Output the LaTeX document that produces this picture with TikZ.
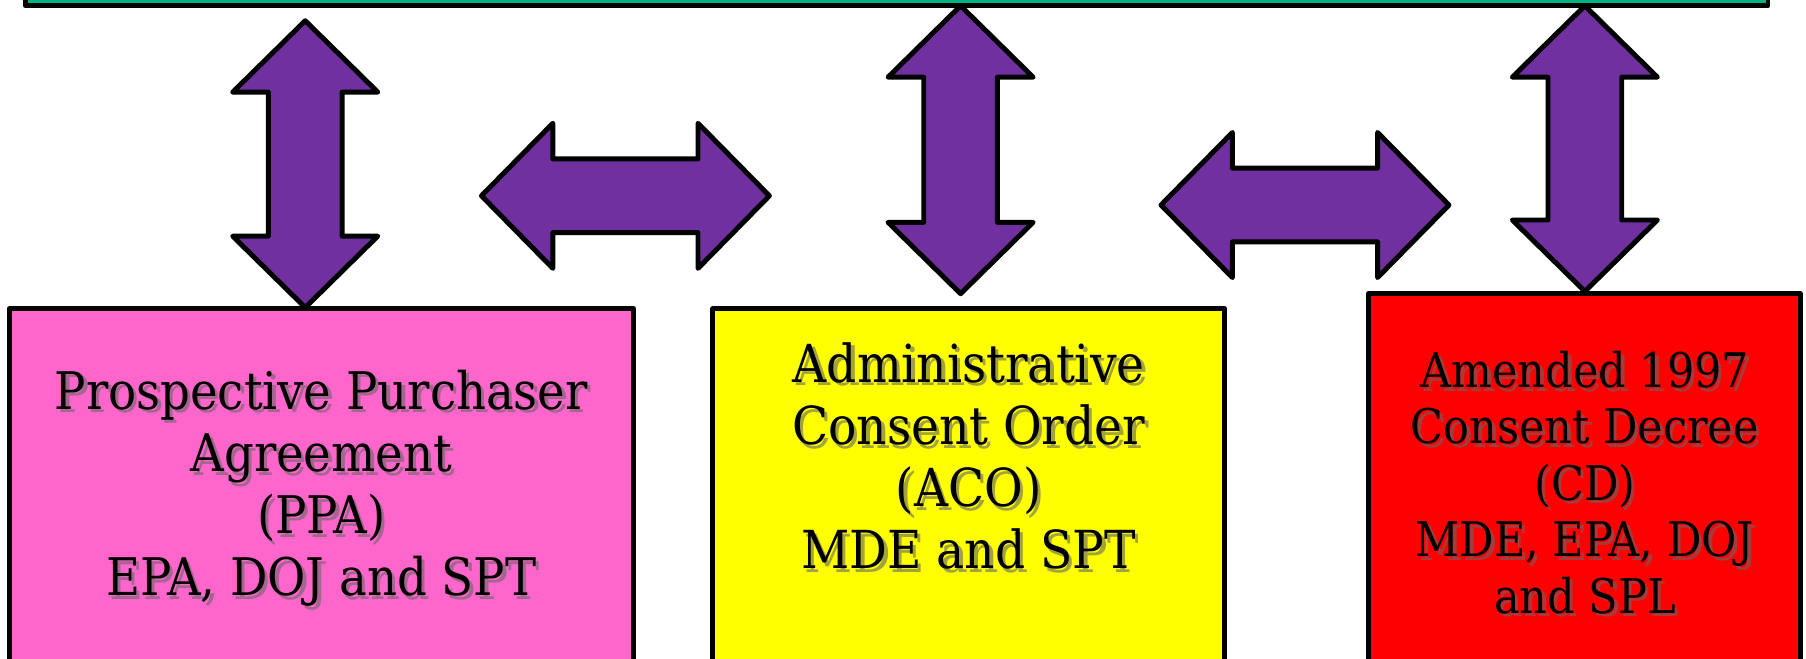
\documentclass[tikz,border=0pt]{standalone}
\usepackage{fontspec}
\setmainfont{DejaVu Serif Condensed}
\definecolor{topgreen}{RGB}{0,178,132}
\definecolor{arrowpurple}{RGB}{112,48,160}
\definecolor{ppapink}{RGB}{255,102,204}
\definecolor{acoyellow}{RGB}{255,255,0}
\definecolor{cdred}{RGB}{255,0,0}

\begin{document}
\begin{tikzpicture}[x=1pt,y=-1pt,line join=round,
           box/.style={draw=black,line width=4.3pt},
           bigarrow/.style={draw=black,fill=arrowpurple,line width=4.3pt},
           boxtext/.style={align=center,inner sep=0pt,font=\fontsize{45}{54}\selectfont},
           acotext/.style={boxtext,font=\fontsize{45.5}{54}\selectfont},
           cdtext/.style={boxtext,font=\fontsize{41.5}{49}\selectfont},
           textshadow/.style={text=black!60,opacity=0.6}]
           \useasboundingbox (0,0) rectangle (1568,571.3);
           \clip (0,0) rectangle (1568,571.3);
           % boxes
           \draw[box,fill=topgreen](22,-40) rectangle (1535,5);
           \draw[box,fill=ppapink](8,268) rectangle (550,600);
           \draw[box,fill=acoyellow](619,268) rectangle (1063,600);
           \draw[box,fill=cdred](1188,255) rectangle (1563,600);
           % double arrows
           \foreach \cx/\yt/\yb in {265/18/267,834/5/255,1376/5/253}
             \draw[bigarrow](\cx,\yt)--++(63,62)--++(-31,0)--(\cx+32,\yb-62)
               --++(31,0)--(\cx,\yb)--++(-63,-62)--++(31,0)--(\cx-32,\yt+62)
               --++(-31,0)--cycle;
           \foreach \xl/\xr/\cy in {418/668/170,1008/1258/178}
             \draw[bigarrow](\xl,\cy)--++(62,-63)--++(0,31)--(\xr-62,\cy-32)
               --++(0,-31)--(\xr,\cy)--++(-62,63)--++(0,-31)--(\xl+62,\cy+32)
               --++(0,31)--cycle;
           % texts
           \node[boxtext,textshadow](ppashadow) at (282,427)
             {Prospective Purchaser\\Agreement\\(PPA)\\EPA, DOJ and SPT};
           \node[boxtext](ppa) at (279,424)
             {Prospective Purchaser\\Agreement\\(PPA)\\EPA, DOJ and SPT};
           \node[acotext,textshadow](acoshadow) at (844,399)
             {Administrative\\Consent Order\\(ACO)\\MDE and SPT};
           \node[acotext](aco) at (841,396)
             {Administrative\\Consent Order\\(ACO)\\MDE and SPT};
           \node[cdtext,textshadow](cdshadow) at (1379,422)
             {Amended 1997\\Consent Decree\\(CD)\\MDE, EPA, DOJ\\and SPL};
           \node[cdtext](cd) at (1376,419)
             {Amended 1997\\Consent Decree\\(CD)\\MDE, EPA, DOJ\\and SPL};
         \end{tikzpicture}
\end{document}
